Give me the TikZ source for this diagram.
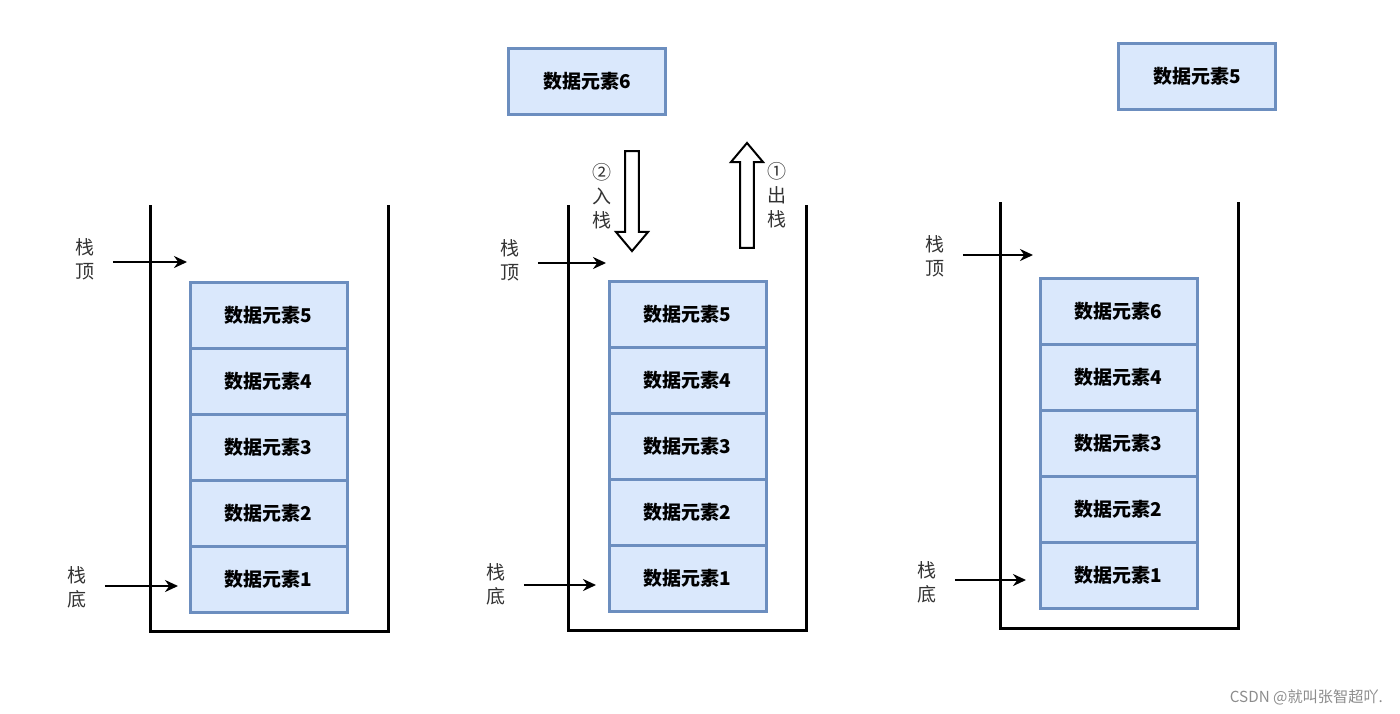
\documentclass[tikz,border=0pt]{standalone}
\usepackage{fontspec}
\setmainfont{Noto Sans CJK SC}
\usepackage{tikz}
\usetikzlibrary{positioning}
\usetikzlibrary{arrows.meta}
\usetikzlibrary{shapes.arrows}
\definecolor{elemfill}{HTML}{DAE8FC}
\definecolor{elemdraw}{HTML}{6C8EBF}
\colorlet{tagtext}{black!80}
\colorlet{signtext}{black!45}
\tikzstyle{elem} = [
    draw=elemdraw,
    fill=elemfill,
    line width=1.5pt,
    rectangle,
    minimum width=78.5pt,
    minimum height=33pt,
    outer sep=0pt,
    font=\bfseries\fontsize{9.5}{11}\selectfont
    ]
\tikzstyle{wall} = [
    line width=1.5pt,
    line join=miter
    ]
\tikzstyle{ptr} = [
    -{Stealth[length=6.5pt,width=6pt]},
    line width=1.2pt
    ]
\tikzstyle{tag} = [
    align=center,
    text=tagtext,
    inner sep=1pt,
    font=\fontsize{9.5}{12}\selectfont
    ]
\tikzstyle{hollow} = [
    single arrow,
    draw=black,
    fill=white,
    line width=1pt,
    inner sep=0pt,
    inner ysep=2.9pt,
    single arrow head extend=4.6pt,
    single arrow tip angle=80
    ]

\begin{document}
\begin{tikzpicture}[x=0.5pt,y=-0.5pt]
\useasboundingbox (0,0) rectangle (1400,713);

% stack before
\draw[wall] (150,205) -- (150,631) -- (388,631) -- (388,205);
\node[elem] (l5) at (268.5,315) {数据元素5};
\node[elem, below=0pt of l5] (l4) {数据元素4};
\node[elem, below=0pt of l4] (l3) {数据元素3};
\node[elem, below=0pt of l3] (l2) {数据元素2};
\node[elem, below=0pt of l2] (l1) {数据元素1};
\node[tag] (ltop) at (85,259) {栈\\顶};
\node[tag] (lbot) at (77,587) {栈\\底};
\coordinate (ltopend) at (187,262);
\coordinate (lbotend) at (178,586);
\draw[ptr] ([xshift=8pt]ltop.east |- ltopend) -- (ltopend);
\draw[ptr] ([xshift=8pt]lbot.east |- lbotend) -- (lbotend);

% stack during
\draw[wall] (568,205) -- (568,630) -- (806,630) -- (806,205);
\node[elem] (m5) at (687.5,314) {数据元素5};
\node[elem, below=0pt of m5] (m4) {数据元素4};
\node[elem, below=0pt of m4] (m3) {数据元素3};
\node[elem, below=0pt of m3] (m2) {数据元素2};
\node[elem, below=0pt of m2] (m1) {数据元素1};
\node[elem] (m6) at (587,81) {数据元素6};
\node[tag] (mtop) at (510,260) {栈\\顶};
\node[tag] (mbot) at (496,584) {栈\\底};
\coordinate (mtopend) at (606,263);
\coordinate (mbotend) at (596,585);
\draw[ptr] ([xshift=8pt]mtop.east |- mtopend) -- (mtopend);
\draw[ptr] ([xshift=8pt]mbot.east |- mbotend) -- (mbotend);
\node[hollow, minimum height=50pt, rotate=-90] (push) at (632,197) {};
\node[hollow, minimum height=52.5pt, rotate=90] (pop) at (747,199.5) {};
\node[tag] (pushtag) at (602,196) {②\\入\\栈};
\node[tag] (poptag) at (777,195) {①\\出\\栈};

% stack after
\draw[wall] (1000,202) -- (1000,628) -- (1238,628) -- (1238,202);
\node[elem] (r6) at (1118.5,311) {数据元素6};
\node[elem, below=0pt of r6] (r4) {数据元素4};
\node[elem, below=0pt of r4] (r3) {数据元素3};
\node[elem, below=0pt of r3] (r2) {数据元素2};
\node[elem, below=0pt of r2] (r1) {数据元素1};
\node[elem] (r5) at (1197,76.5) {数据元素5};
\node[tag] (rtop) at (935,256) {栈\\顶};
\node[tag] (rbot) at (927,582) {栈\\底};
\coordinate (rtopend) at (1033,255);
\coordinate (rbotend) at (1026,580);
\draw[ptr] ([xshift=8pt]rtop.east |- rtopend) -- (rtopend);
\draw[ptr] ([xshift=8pt]rbot.east |- rbotend) -- (rbotend);

\node[anchor=east, text=signtext, font=\fontsize{7.6}{9}\selectfont] (sign) at (1390,697) {CSDN @就叫张智超吖.};
\end{tikzpicture}
\end{document}
